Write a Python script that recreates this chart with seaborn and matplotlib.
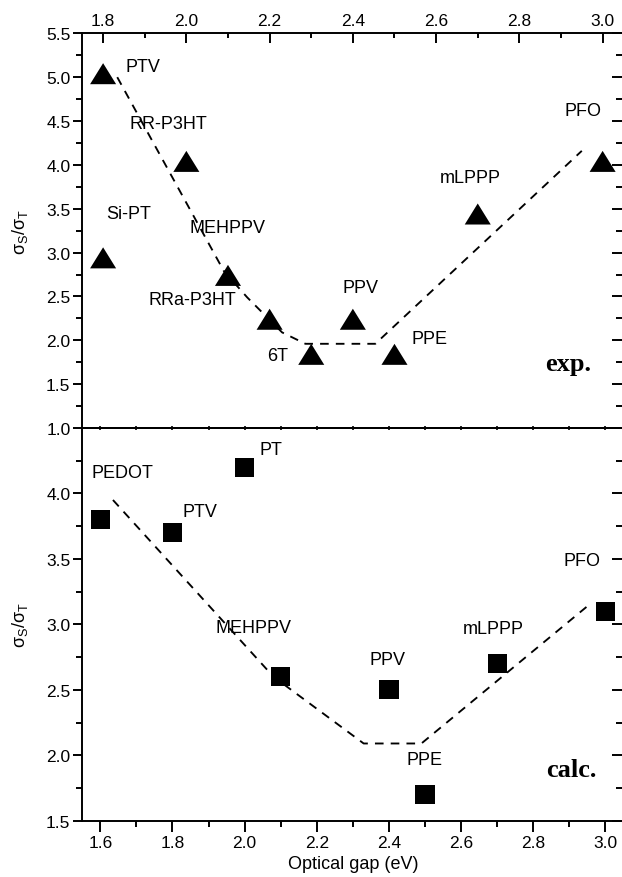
import numpy as np
import pandas as pd
import matplotlib
matplotlib.use("Agg")
import matplotlib.pyplot as plt
from matplotlib.path import Path
from matplotlib.ticker import MultipleLocator, FormatStrFormatter, FixedLocator
import seaborn as sns

# ---- experimental singlet/triplet ratios vs. optical gap ----
exp_names = ["PTV", "Si-PT", "RR-P3HT", "MEHPPV", "RRa-P3HT", "6T", "PPV", "PPE", "mLPPP", "PFO"]
exp_gap = [1.8, 1.8, 2.0, 2.1, 2.2, 2.3, 2.4, 2.5, 2.7, 3.0]
exp_ratio = [5.0, 2.9, 4.0, 2.7, 2.2, 1.8, 2.2, 1.8, 3.4, 4.0]

# ---- calculated singlet/triplet ratios vs. optical gap ----
calc_names = ["PEDOT", "PTV", "PT", "MEHPPV", "PPV", "PPE", "mLPPP", "PFO"]
calc_gap = [1.6, 1.8, 2.0, 2.1, 2.4, 2.5, 2.7, 3.0]
calc_ratio = [3.8, 3.7, 4.2, 2.6, 2.5, 1.7, 2.7, 3.1]

# ---- dashed guides to the eye ----
exp_guide_x = [1.834, 2.09, 2.146, 2.23, 2.286, 2.454, 2.95]
exp_guide_y = [5.0, 2.79, 2.49, 2.09, 1.96, 1.96, 4.16]
calc_guide_x = [1.635, 2.08, 2.33, 2.49, 2.955]
calc_guide_y = [3.95, 2.6, 2.09, 2.09, 3.15]

# label offsets (points) from each marker
exp_label_offsets = [(16, 4.5), (2.5, 31), (-41, 26.5), (-27.5, 34), (-87, 13.3),
                     (-32, -1.6), (-7.5, 22), (12, 10.7), (-27.5, 25.3), (-27.5, 36)]
calc_label_offsets = [(-6, 31), (7.5, 12.3), (10.7, 9.5), (-47, 32.2),
                      (-14.3, 18.5), (-13, 21.8), (-24.4, 21.8), (-30, 33)]

sns.set_theme(style="ticks")
plt.rcParams["font.family"] = ["Liberation Sans", "DejaVu Sans"]
plt.rcParams["mathtext.fontset"] = "custom"
plt.rcParams["mathtext.rm"] = "Liberation Sans"
plt.rcParams["mathtext.it"] = "Liberation Sans:italic"
plt.rcParams["axes.linewidth"] = 1.4
for key in ["text.color", "axes.labelcolor", "axes.edgecolor", "xtick.color", "ytick.color"]:
    plt.rcParams[key] = "black"

exp_df = pd.DataFrame({"gap": exp_gap, "ratio": exp_ratio, "name": exp_names})
calc_df = pd.DataFrame({"gap": calc_gap, "ratio": calc_ratio, "name": calc_names})

# triangle centred on its centroid
tri_marker = Path([(0, 14), (-13, -7), (13, -7), (0, 14)],
                  [Path.MOVETO, Path.LINETO, Path.LINETO, Path.CLOSEPOLY])

fig = plt.figure(figsize=(6.22, 8.78), dpi=100)
ax_top = fig.add_axes([0.1323, 0.5114, 0.870, 0.4495])
ax_bot = fig.add_axes([0.1323, 0.0641, 0.870, 0.4473])

TICK_FS = 12.5
TEXT_FS = 13
LW = 1.4
dash = (0, (4.6, 3.8))
GUIDE_LW = 1.35

# ---------------- upper panel: experiment ----------------
sns.lineplot(x=exp_guide_x, y=exp_guide_y, sort=False, estimator=None, ax=ax_top,
             color="black", linewidth=GUIDE_LW, linestyle=dash, zorder=2)
sns.scatterplot(data=exp_df, x="gap", y="ratio", ax=ax_top, marker=tri_marker,
                s=20.2 ** 2, color="black", edgecolor="none", linewidth=0, zorder=3)
for (gx, gy, name), off in zip(zip(exp_gap, exp_ratio, exp_names), exp_label_offsets):
    ax_top.annotate(name, (gx, gy), xytext=off, textcoords="offset points",
                    ha="left", va="baseline", fontsize=TEXT_FS)
ax_top.text(2.972, 1.665, "exp.", ha="right", va="baseline", fontsize=19,
            family=["Liberation Serif"], fontweight="bold")

ax_top.set_xlim(1.75, 3.05)
ax_top.set_ylim(1.0, 5.5)
ax_top.xaxis.set_major_locator(MultipleLocator(0.2))
ax_top.xaxis.set_minor_locator(MultipleLocator(0.1))
ax_top.xaxis.set_major_formatter(FormatStrFormatter("%.1f"))
ax_top.yaxis.set_major_locator(MultipleLocator(0.5))
ax_top.yaxis.set_minor_locator(MultipleLocator(0.25))
ax_top.yaxis.set_major_formatter(FormatStrFormatter("%.1f"))
ax_top.tick_params(axis="x", which="both", direction="in", top=True, bottom=False,
                   labeltop=True, labelbottom=False, width=LW, labelsize=TICK_FS, pad=4)
ax_top.tick_params(axis="x", which="major", length=7)
ax_top.tick_params(axis="x", which="minor", length=3.6)
ax_top.tick_params(axis="y", which="both", direction="out", left=True, right=False,
                   width=LW, labelsize=TICK_FS, pad=2)
ax_top.tick_params(axis="y", which="major", length=6.5)
ax_top.tick_params(axis="y", which="minor", length=4)
ax_top.set_xlabel("")
ax_top.set_ylabel("σ$_\\mathrm{S}$/σ$_\\mathrm{T}$", fontsize=TEXT_FS)
ax_top.yaxis.set_label_coords(-0.097, 0.5)

sec_top = ax_top.secondary_yaxis("right")
sec_top.yaxis.set_major_locator(MultipleLocator(0.5))
sec_top.yaxis.set_minor_locator(MultipleLocator(0.25))
sec_top.tick_params(which="both", direction="in", labelright=False, width=LW)
sec_top.tick_params(which="major", length=8)
sec_top.tick_params(which="minor", length=4.7)
sec_top.spines["right"].set_linewidth(LW)

# ---------------- lower panel: calculation ----------------
sns.lineplot(x=calc_guide_x, y=calc_guide_y, sort=False, estimator=None, ax=ax_bot,
             color="black", linewidth=GUIDE_LW, linestyle=dash, zorder=2)
sns.scatterplot(data=calc_df, x="gap", y="ratio", ax=ax_bot, marker="s",
                s=13.9 ** 2, color="black", edgecolor="none", linewidth=0, zorder=3)
for (gx, gy, name), off in zip(zip(calc_gap, calc_ratio, calc_names), calc_label_offsets):
    ax_bot.annotate(name, (gx, gy), xytext=off, textcoords="offset points",
                    ha="left", va="baseline", fontsize=TEXT_FS)
ax_bot.text(2.974, 1.84, "calc.", ha="right", va="baseline", fontsize=19,
            family=["Liberation Serif"], fontweight="bold")

ax_bot.set_xlim(1.55, 3.05)
ax_bot.set_ylim(1.5, 4.5)
ax_bot.xaxis.set_major_locator(MultipleLocator(0.2))
ax_bot.xaxis.set_minor_locator(MultipleLocator(0.1))
ax_bot.xaxis.set_major_formatter(FormatStrFormatter("%.1f"))
ax_bot.yaxis.set_major_locator(FixedLocator(np.arange(1.5, 4.01, 0.5)))
ax_bot.yaxis.set_minor_locator(FixedLocator(np.arange(1.75, 4.3, 0.5)))
ax_bot.yaxis.set_major_formatter(FormatStrFormatter("%.1f"))
ax_bot.tick_params(axis="x", which="both", direction="out", top=False, bottom=True,
                   width=LW, labelsize=TICK_FS, pad=2)
ax_bot.tick_params(axis="x", which="major", length=8)
ax_bot.tick_params(axis="x", which="minor", length=4)
ax_bot.tick_params(axis="y", which="both", direction="out", left=True, right=False,
                   width=LW, labelsize=TICK_FS, pad=2)
ax_bot.tick_params(axis="y", which="major", length=6.5)
ax_bot.tick_params(axis="y", which="minor", length=4)
ax_bot.set_xlabel("Optical gap (eV)", fontsize=TEXT_FS)
ax_bot.xaxis.set_label_coords(0.5, -0.088)
ax_bot.set_ylabel("σ$_\\mathrm{S}$/σ$_\\mathrm{T}$", fontsize=TEXT_FS)
ax_bot.yaxis.set_label_coords(-0.097, 0.5)

sec_bot_r = ax_bot.secondary_yaxis("right")
sec_bot_r.yaxis.set_major_locator(FixedLocator(np.arange(1.5, 4.01, 0.5)))
sec_bot_r.yaxis.set_minor_locator(FixedLocator(np.arange(1.75, 4.3, 0.5)))
sec_bot_r.tick_params(which="both", direction="in", labelright=False, width=LW)
sec_bot_r.tick_params(which="major", length=8)
sec_bot_r.tick_params(which="minor", length=4.7)
sec_bot_r.spines["right"].set_linewidth(LW)

sec_bot_t = ax_bot.secondary_xaxis("top")
sec_bot_t.xaxis.set_major_locator(MultipleLocator(0.1))
sec_bot_t.tick_params(which="both", direction="inout", length=2.2, width=1.2,
                      labeltop=False)
sec_bot_t.spines["top"].set_linewidth(LW)

fig.savefig("out.png", dpi=100)
